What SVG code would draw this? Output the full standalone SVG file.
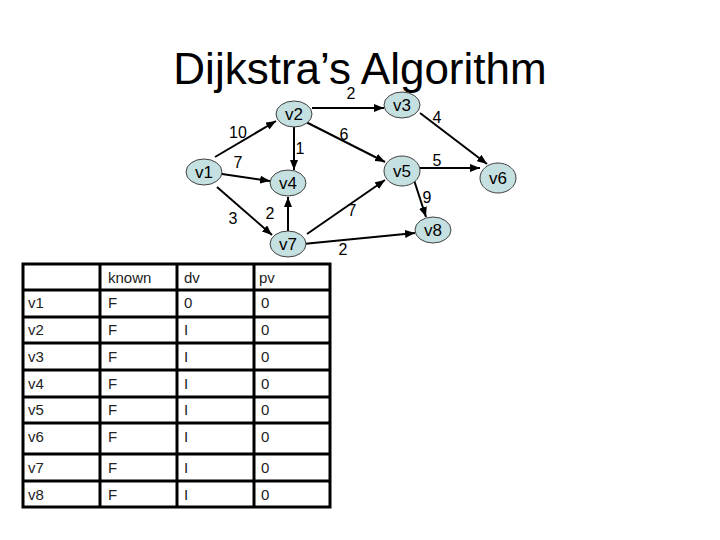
<svg xmlns="http://www.w3.org/2000/svg" width="720" height="540" viewBox="0 0 720 540">
<defs>
<marker id="ah" markerUnits="userSpaceOnUse" markerWidth="10" markerHeight="8" refX="10" refY="4" orient="auto">
<path d="M0,0 L10,4 L0,8 z" fill="#000"/>
</marker>
<style>
.node ellipse{fill:#c5e0e0;stroke:#404040;stroke-width:1}
.node text{font-family:"Liberation Sans",Arial,sans-serif;font-size:17px;text-anchor:middle;fill:#000}
.edge{stroke:#000;stroke-width:2;fill:none;marker-end:url(#ah)}
.wl{font-family:"Liberation Sans",Arial,sans-serif;font-size:16px;fill:#000;text-anchor:middle}
.tl{stroke:#000;stroke-width:3;fill:none}
.tt{font-family:"Liberation Sans",Arial,sans-serif;font-size:15px;fill:#222}
</style>
</defs>
<rect width="720" height="540" fill="#fff"/>
<text x="360" y="84" font-family="Liberation Sans,Arial,sans-serif" font-size="44" text-anchor="middle" fill="#000">Dijkstra’s Algorithm</text>
<g id="connectors">
<line class="edge" x1="215" y1="157" x2="276" y2="121"/>
<line class="edge" x1="222" y1="174" x2="270" y2="181"/>
<line class="edge" x1="217" y1="187" x2="272" y2="235"/>
<line class="edge" x1="294" y1="127" x2="294" y2="170"/>
<line class="edge" x1="312" y1="108" x2="384" y2="108"/>
<line class="edge" x1="302" y1="120" x2="385" y2="162"/>
<line class="edge" x1="288" y1="231" x2="288" y2="197"/>
<line class="edge" x1="307" y1="234" x2="385" y2="180"/>
<line class="edge" x1="303" y1="244" x2="415" y2="233"/>
<line class="edge" x1="420" y1="113" x2="487" y2="164"/>
<line class="edge" x1="420" y1="168" x2="480" y2="168"/>
<line class="edge" x1="414" y1="180" x2="426" y2="217"/>
</g>
<g id="weights">
<text class="wl" x="238" y="138">10</text>
<text class="wl" x="300" y="154">1</text>
<text class="wl" x="344" y="140">6</text>
<text class="wl" x="238" y="168">7</text>
<text class="wl" x="233" y="224">3</text>
<text class="wl" x="270" y="219">2</text>
<text class="wl" x="352" y="216">7</text>
<text class="wl" x="343" y="255">2</text>
<text class="wl" x="351" y="99" font-size="15">2</text>
<text class="wl" x="437" y="123">4</text>
<text class="wl" x="437" y="166">5</text>
<text class="wl" x="427" y="203">9</text>
</g>
<g id="v1" class="node"><ellipse cx="204" cy="172" rx="18" ry="13"/><text x="204" y="178">v1</text></g>
<g id="v2" class="node"><ellipse cx="294" cy="114" rx="18" ry="13"/><text x="294" y="120">v2</text></g>
<g id="v3" class="node"><ellipse cx="402" cy="105" rx="18" ry="13"/><text x="402" y="111">v3</text></g>
<g id="v4" class="node"><ellipse cx="288" cy="183" rx="18" ry="13"/><text x="288" y="189">v4</text></g>
<g id="v5" class="node"><ellipse cx="402" cy="171" rx="18" ry="15"/><text x="402" y="177">v5</text></g>
<g id="v6" class="node"><ellipse cx="498" cy="178" rx="18" ry="15"/><text x="498" y="184">v6</text></g>
<g id="v7" class="node"><ellipse cx="288" cy="244" rx="18" ry="13"/><text x="288" y="250">v7</text></g>
<g id="v8" class="node"><ellipse cx="433" cy="230" rx="18" ry="13"/><text x="433" y="236">v8</text></g>
<g id="table">
<rect class="tl" x="23" y="264" width="307" height="243"/>
<line class="tl" x1="100" y1="264" x2="100" y2="507"/>
<line class="tl" x1="177" y1="264" x2="177" y2="507"/>
<line class="tl" x1="254" y1="264" x2="254" y2="507"/>
<line class="tl" x1="23" y1="290" x2="330" y2="290"/>
<line class="tl" x1="23" y1="317" x2="330" y2="317"/>
<line class="tl" x1="23" y1="343" x2="330" y2="343"/>
<line class="tl" x1="23" y1="370" x2="330" y2="370"/>
<line class="tl" x1="23" y1="397" x2="330" y2="397"/>
<line class="tl" x1="23" y1="423" x2="330" y2="423"/>
<line class="tl" x1="23" y1="454" x2="330" y2="454"/>
<line class="tl" x1="23" y1="481" x2="330" y2="481"/>
<text class="tt" x="108" y="283">known</text><text class="tt" x="184" y="283">dv</text><text class="tt" x="259" y="283">pv</text>
<text class="tt" x="28" y="308">v1</text><text class="tt" x="108" y="308">F</text><text class="tt" x="184" y="308">0</text><text class="tt" x="261" y="308">0</text>
<text class="tt" x="28" y="335">v2</text><text class="tt" x="108" y="335">F</text><text class="tt" x="184" y="335">I</text><text class="tt" x="261" y="335">0</text>
<text class="tt" x="28" y="362">v3</text><text class="tt" x="108" y="362">F</text><text class="tt" x="184" y="362">I</text><text class="tt" x="261" y="362">0</text>
<text class="tt" x="28" y="389">v4</text><text class="tt" x="108" y="389">F</text><text class="tt" x="184" y="389">I</text><text class="tt" x="261" y="389">0</text>
<text class="tt" x="28" y="415">v5</text><text class="tt" x="108" y="415">F</text><text class="tt" x="184" y="415">I</text><text class="tt" x="261" y="415">0</text>
<text class="tt" x="28" y="442">v6</text><text class="tt" x="108" y="442">F</text><text class="tt" x="184" y="442">I</text><text class="tt" x="261" y="442">0</text>
<text class="tt" x="28" y="473">v7</text><text class="tt" x="108" y="473">F</text><text class="tt" x="184" y="473">I</text><text class="tt" x="261" y="473">0</text>
<text class="tt" x="28" y="500">v8</text><text class="tt" x="108" y="500">F</text><text class="tt" x="184" y="500">I</text><text class="tt" x="261" y="500">0</text>
</g>
</svg>
